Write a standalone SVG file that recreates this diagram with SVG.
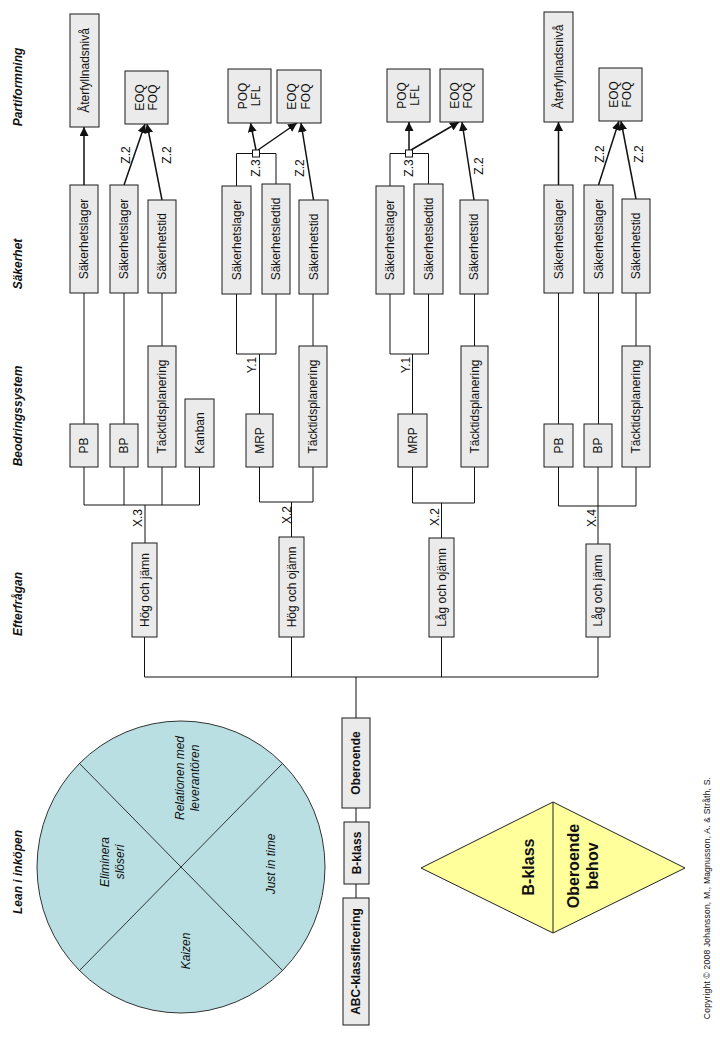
<svg xmlns="http://www.w3.org/2000/svg" width="720" height="1040" viewBox="0 0 720 1040">
<defs>
<style>
.bg{fill:#ffffff}
.box{fill:#EBEBEB;stroke:#1a1a1a;stroke-width:1}
.t{font-family:"Liberation Sans",Arial,sans-serif;font-size:12px;fill:#111;text-anchor:middle;dominant-baseline:central}
.b{font-weight:bold}
.h{font-weight:bold;font-style:italic}
.i{font-style:italic}
.ln{stroke:#111;stroke-width:1;fill:none}
.ar{stroke:#111;stroke-width:1.5;fill:none;marker-end:url(#ah)}
.jn{fill:#fff;stroke:#111;stroke-width:1}
</style>
<marker id="ah" markerUnits="userSpaceOnUse" markerWidth="10" markerHeight="10" refX="9" refY="4.5" orient="auto"><path d="M0,0 L9,4.5 L0,9 z" fill="#111"/></marker>
</defs>
<rect class="bg" x="0" y="0" width="720" height="1040"/>

<g id="headers">
<text class="t h" transform="translate(18,87) rotate(-90)">Partiformning</text>
<text class="t h" transform="translate(18,264) rotate(-90)">Säkerhet</text>
<text class="t h" transform="translate(18,416) rotate(-90)">Beodringssystem</text>
<text class="t h" transform="translate(18,604) rotate(-90)">Efterfrågan</text>
<text class="t h" transform="translate(18,872) rotate(-90)">Lean i inköpen</text>
</g>

<g id="connectors">
<!-- block 1 -->
<line class="ar" x1="84" y1="185" x2="84" y2="127"/>
<line class="ar" x1="124" y1="185" x2="145" y2="124"/>
<line class="ar" x1="162" y1="200" x2="147" y2="124"/>
<line class="ln" x1="84" y1="293" x2="84" y2="424"/>
<line class="ln" x1="124" y1="293" x2="124" y2="424"/>
<line class="ln" x1="162" y1="293" x2="162" y2="346"/>
<polyline class="ln" points="84,467 84,505 199.5,505 199.5,467"/>
<line class="ln" x1="124" y1="467" x2="124" y2="505"/>
<line class="ln" x1="162" y1="467" x2="162" y2="505"/>
<line class="ln" x1="145" y1="505" x2="145" y2="543"/>
<!-- block 2 -->
<polyline class="ln" points="236.5,186 236.5,153.5 276,153.5 276,184"/>
<line class="ar" x1="256" y1="150" x2="250.5" y2="123"/>
<line class="ar" x1="258" y1="150" x2="297" y2="123"/>
<line class="ar" x1="313.5" y1="200" x2="301" y2="123"/>
<polyline class="ln" points="236.5,294 236.5,354 276,354 276,294"/>
<line class="ln" x1="259.5" y1="354" x2="259.5" y2="414"/>
<line class="ln" x1="313" y1="294" x2="313" y2="346"/>
<polyline class="ln" points="259.5,467 259.5,502 313,502 313,467"/>
<line class="ln" x1="291.5" y1="502" x2="291.5" y2="537"/>
<!-- block 3 -->
<polyline class="ln" points="390,186 390,153.5 428.5,153.5 428.5,184"/>
<line class="ar" x1="409" y1="150" x2="409" y2="122"/>
<line class="ar" x1="411" y1="150" x2="459" y2="122"/>
<line class="ar" x1="474" y1="200" x2="462" y2="122"/>
<polyline class="ln" points="390,294 390,354 428.5,354 428.5,294"/>
<line class="ln" x1="412.5" y1="354" x2="412.5" y2="414"/>
<line class="ln" x1="474.5" y1="294" x2="474.5" y2="346"/>
<polyline class="ln" points="412.5,467 412.5,503 474.5,503 474.5,467"/>
<line class="ln" x1="441.5" y1="503" x2="441.5" y2="538"/>
<!-- block 4 -->
<line class="ar" x1="558.5" y1="185" x2="558.5" y2="122"/>
<line class="ar" x1="598.5" y1="185" x2="619" y2="121"/>
<line class="ar" x1="636" y1="199" x2="621" y2="121"/>
<line class="ln" x1="558.5" y1="293" x2="558.5" y2="424"/>
<line class="ln" x1="598.5" y1="293" x2="598.5" y2="424"/>
<line class="ln" x1="636" y1="293" x2="636" y2="346"/>
<polyline class="ln" points="558.5,467 558.5,506 636,506 636,467"/>
<line class="ln" x1="598" y1="467" x2="598" y2="544"/>
<!-- main bus -->
<polyline class="ln" points="144.5,637 144.5,677 598,677 598,637"/>
<line class="ln" x1="291.5" y1="637" x2="291.5" y2="677"/>
<line class="ln" x1="441.5" y1="637" x2="441.5" y2="677"/>
<line class="ln" x1="356" y1="677" x2="356" y2="718"/>
<line class="ln" x1="356" y1="808" x2="356" y2="822"/>
<line class="ln" x1="356" y1="884" x2="356" y2="898"/>
<!-- junctions -->
<rect class="jn" x="252.5" y="150" width="7" height="7"/>
<rect class="jn" x="405.5" y="150" width="7" height="7"/>
</g>

<g id="labels">
<text class="t" transform="translate(126,155) rotate(-90)">Z.2</text>
<text class="t" transform="translate(167,155) rotate(-90)">Z.2</text>
<text class="t" transform="translate(256,168) rotate(-90)">Z.3</text>
<text class="t" transform="translate(300,168) rotate(-90)">Z.2</text>
<text class="t" transform="translate(409,168) rotate(-90)">Z.3</text>
<text class="t" transform="translate(479,166) rotate(-90)">Z.2</text>
<text class="t" transform="translate(600,154) rotate(-90)">Z.2</text>
<text class="t" transform="translate(639,154) rotate(-90)">Z.2</text>
<text class="t" transform="translate(252,365) rotate(-90)">Y.1</text>
<text class="t" transform="translate(406,365) rotate(-90)">Y.1</text>
<text class="t" transform="translate(138,518) rotate(-90)">X.3</text>
<text class="t" transform="translate(287,515) rotate(-90)">X.2</text>
<text class="t" transform="translate(435,517) rotate(-90)">X.2</text>
<text class="t" transform="translate(592,518) rotate(-90)">X.4</text>
</g>

<!-- block 1 nodes -->
<g id="n_aterfyll1"><rect class="box" x="70" y="14" width="29" height="113"/><text class="t" transform="translate(84.5,70.5) rotate(-90)">Återfyllnadsnivå</text></g>
<g id="n_eoq1"><rect class="box" x="125" y="71" width="43" height="53"/><text class="t" transform="translate(140,97.5) rotate(-90)">EOQ</text><text class="t" transform="translate(153,97.5) rotate(-90)">FOQ</text></g>
<g id="n_sl1a"><rect class="box" x="70" y="185" width="28" height="108"/><text class="t" transform="translate(84,239) rotate(-90)">Säkerhetslager</text></g>
<g id="n_sl1b"><rect class="box" x="110" y="185" width="28" height="108"/><text class="t" transform="translate(124,239) rotate(-90)">Säkerhetslager</text></g>
<g id="n_st1"><rect class="box" x="148" y="200" width="28" height="93"/><text class="t" transform="translate(162,246.5) rotate(-90)">Säkerhetstid</text></g>
<g id="n_pb1"><rect class="box" x="70" y="424" width="28" height="43"/><text class="t" transform="translate(84,445.5) rotate(-90)">PB</text></g>
<g id="n_bp1"><rect class="box" x="110" y="424" width="28" height="43"/><text class="t" transform="translate(124,445.5) rotate(-90)">BP</text></g>
<g id="n_tp1"><rect class="box" x="148" y="346" width="28" height="121"/><text class="t" transform="translate(162,406.5) rotate(-90)">Täcktidsplanering</text></g>
<g id="n_kanban"><rect class="box" x="185" y="399" width="29" height="68"/><text class="t" transform="translate(199.5,433) rotate(-90)">Kanban</text></g>
<g id="n_hoj"><rect class="box" x="132" y="543" width="25" height="94"/><text class="t" transform="translate(144.5,590) rotate(-90)">Hög och jämn</text></g>

<!-- block 2 nodes -->
<g id="n_poq2"><rect class="box" x="228" y="69" width="43" height="54"/><text class="t" transform="translate(243,96) rotate(-90)">POQ</text><text class="t" transform="translate(256,96) rotate(-90)">LFL</text></g>
<g id="n_eoq2"><rect class="box" x="277" y="70" width="44" height="53"/><text class="t" transform="translate(292,96.5) rotate(-90)">EOQ</text><text class="t" transform="translate(306,96.5) rotate(-90)">FOQ</text></g>
<g id="n_sl2"><rect class="box" x="222" y="186" width="29" height="108"/><text class="t" transform="translate(236.5,240) rotate(-90)">Säkerhetslager</text></g>
<g id="n_sled2"><rect class="box" x="262" y="184" width="28" height="110"/><text class="t" transform="translate(276,239) rotate(-90)">Säkerhetsledtid</text></g>
<g id="n_st2"><rect class="box" x="299" y="200" width="29" height="94"/><text class="t" transform="translate(313.5,247) rotate(-90)">Säkerhetstid</text></g>
<g id="n_mrp2"><rect class="box" x="246" y="414" width="27" height="53"/><text class="t" transform="translate(259.5,440.5) rotate(-90)">MRP</text></g>
<g id="n_tp2"><rect class="box" x="299" y="346" width="28" height="121"/><text class="t" transform="translate(313,406.5) rotate(-90)">Täcktidsplanering</text></g>
<g id="n_hoo"><rect class="box" x="279" y="537" width="25" height="100"/><text class="t" transform="translate(291.5,587) rotate(-90)">Hög och ojämn</text></g>

<!-- block 3 nodes -->
<g id="n_poq3"><rect class="box" x="387" y="69" width="43" height="53"/><text class="t" transform="translate(402,95.5) rotate(-90)">POQ</text><text class="t" transform="translate(415,95.5) rotate(-90)">LFL</text></g>
<g id="n_eoq3"><rect class="box" x="440" y="69" width="43" height="53"/><text class="t" transform="translate(455,95.5) rotate(-90)">EOQ</text><text class="t" transform="translate(468,95.5) rotate(-90)">FOQ</text></g>
<g id="n_sl3"><rect class="box" x="376" y="186" width="28" height="108"/><text class="t" transform="translate(390,240) rotate(-90)">Säkerhetslager</text></g>
<g id="n_sled3"><rect class="box" x="414" y="184" width="29" height="110"/><text class="t" transform="translate(428.5,239) rotate(-90)">Säkerhetsledtid</text></g>
<g id="n_st3"><rect class="box" x="460" y="200" width="28" height="94"/><text class="t" transform="translate(474,247) rotate(-90)">Säkerhetstid</text></g>
<g id="n_mrp3"><rect class="box" x="398" y="414" width="29" height="53"/><text class="t" transform="translate(412.5,440.5) rotate(-90)">MRP</text></g>
<g id="n_tp3"><rect class="box" x="461" y="346" width="27" height="121"/><text class="t" transform="translate(474.5,406.5) rotate(-90)">Täcktidsplanering</text></g>
<g id="n_loo"><rect class="box" x="429" y="538" width="25" height="99"/><text class="t" transform="translate(441.5,587.5) rotate(-90)">Låg och ojämn</text></g>

<!-- block 4 nodes -->
<g id="n_aterfyll4"><rect class="box" x="544" y="12" width="29" height="110"/><text class="t" transform="translate(558.5,67) rotate(-90)">Återfyllnadsnivå</text></g>
<g id="n_eoq4"><rect class="box" x="599" y="68" width="43" height="53"/><text class="t" transform="translate(613.5,94.5) rotate(-90)">EOQ</text><text class="t" transform="translate(627,94.5) rotate(-90)">FOQ</text></g>
<g id="n_sl4a"><rect class="box" x="544" y="185" width="29" height="108"/><text class="t" transform="translate(558.5,239) rotate(-90)">Säkerhetslager</text></g>
<g id="n_sl4b"><rect class="box" x="584" y="185" width="29" height="108"/><text class="t" transform="translate(598.5,239) rotate(-90)">Säkerhetslager</text></g>
<g id="n_st4"><rect class="box" x="622" y="199" width="28" height="94"/><text class="t" transform="translate(636,246) rotate(-90)">Säkerhetstid</text></g>
<g id="n_pb4"><rect class="box" x="544" y="424" width="29" height="43"/><text class="t" transform="translate(558.5,445.5) rotate(-90)">PB</text></g>
<g id="n_bp4"><rect class="box" x="584" y="424" width="28" height="43"/><text class="t" transform="translate(598,445.5) rotate(-90)">BP</text></g>
<g id="n_tp4"><rect class="box" x="622" y="346" width="28" height="121"/><text class="t" transform="translate(636,406.5) rotate(-90)">Täcktidsplanering</text></g>
<g id="n_loj"><rect class="box" x="586" y="544" width="24" height="93"/><text class="t" transform="translate(598,590.5) rotate(-90)">Låg och jämn</text></g>

<!-- lower chain -->
<g id="n_oberoende"><rect class="box" x="342" y="718" width="28" height="90"/><text class="t b" transform="translate(356,763) rotate(-90)">Oberoende</text></g>
<g id="n_bklass"><rect class="box" x="344" y="822" width="25" height="62"/><text class="t b" transform="translate(356.5,853) rotate(-90)">B-klass</text></g>
<g id="n_abc"><rect class="box" x="343" y="898" width="26" height="127"/><text class="t b" transform="translate(356,961.5) rotate(-90)">ABC-klassificering</text></g>

<!-- lean circle -->
<g id="lean_circle">
<ellipse cx="181" cy="867" rx="144" ry="146" fill="#B9DFE3" stroke="#333" stroke-width="1"/>
<line x1="79" y1="763" x2="283" y2="971" stroke="#333" stroke-width="1"/>
<line x1="79" y1="971" x2="283" y2="763" stroke="#333" stroke-width="1"/>
<text class="t i" transform="translate(105,862) rotate(-90)">Eliminera</text>
<text class="t i" transform="translate(120,862) rotate(-90)">slöseri</text>
<text class="t i" transform="translate(180,778) rotate(-90)">Relationen med</text>
<text class="t i" transform="translate(195,778) rotate(-90)">leverantören</text>
<text class="t i" transform="translate(271,864) rotate(-90)">Just in time</text>
<text class="t i" transform="translate(186,951) rotate(-90)">Kaizen</text>
</g>

<!-- diamond -->
<g id="diamond">
<polygon points="421,868 553,802 685,868 553,933" fill="#FFFF9C" stroke="#222" stroke-width="1"/>
<line x1="553" y1="802" x2="553" y2="933" stroke="#222" stroke-width="1"/>
<text class="t b" style="font-size:16px" transform="translate(528,867) rotate(-90)">B-klass</text>
<text class="t b" style="font-size:16px" transform="translate(573,866) rotate(-90)">Oberoende</text>
<text class="t b" style="font-size:16px" transform="translate(592,866) rotate(-90)">behov</text>
</g>

<text class="t" style="font-size:8.5px;letter-spacing:0.2px" transform="translate(707,898) rotate(-90)">Copyright © 2008 Johansson, M., Magnusson, A. &amp; Stråth, S.</text>
</svg>
